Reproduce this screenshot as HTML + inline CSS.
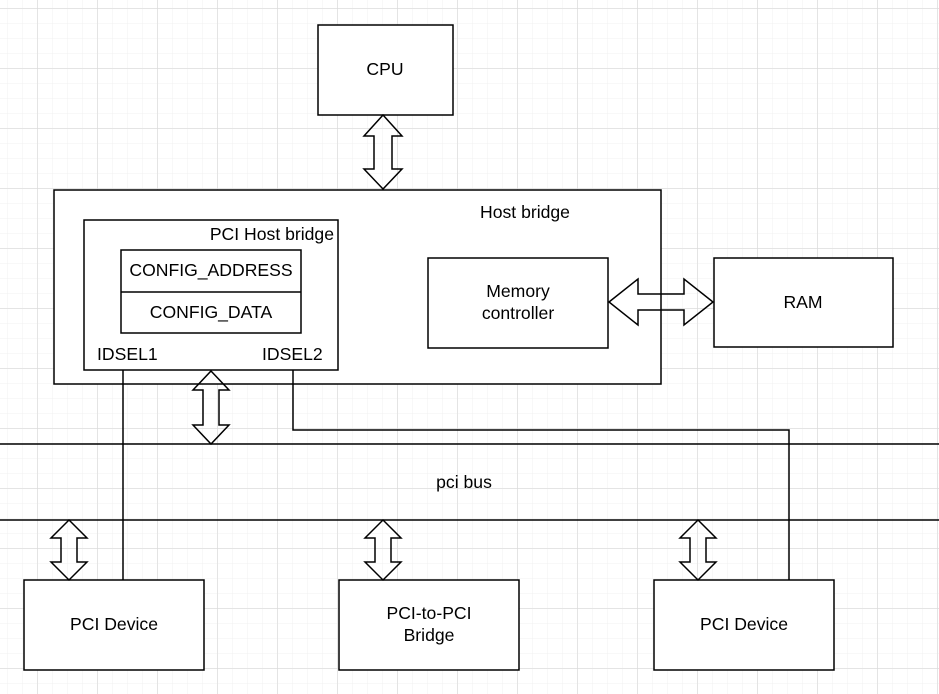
<!DOCTYPE html><html><head><style>body{margin:0;background:#fff}svg{display:block}text{font-family:"Liberation Sans",Arial,sans-serif;font-size:17.6px;fill:#000}</style></head><body>
<svg width="939" height="694" viewBox="0 0 939 694" xmlns="http://www.w3.org/2000/svg">
<defs>
<pattern id="mn" width="15" height="15" patternUnits="userSpaceOnUse" x="7" y="8"><path d="M0 0H15M0 0V15" stroke="#f1f1f1" stroke-width="1" fill="none"/></pattern>
<pattern id="mj" width="60" height="60" patternUnits="userSpaceOnUse" x="37.5" y="8.5"><path d="M0 0H60M0 0V60" stroke="#d6d6d6" stroke-width="1" fill="none"/></pattern>
</defs>
<rect width="939" height="694" fill="url(#mn)"/>
<rect width="939" height="694" fill="url(#mj)"/>
<g stroke="#000" stroke-width="1.5" fill="#fff">
<rect x="318" y="25" width="135" height="90"/>
<rect x="54" y="190" width="607" height="194"/>
<rect x="84" y="220" width="254" height="150"/>
<rect x="121" y="250" width="180" height="83"/>
<line x1="121" y1="292" x2="301" y2="292"/>
<rect x="428" y="258" width="180" height="90"/>
<rect x="714" y="258" width="179" height="89"/>
<rect x="24" y="580" width="180" height="90"/>
<rect x="339" y="580" width="180" height="90"/>
<rect x="654" y="580" width="180" height="90"/>
</g>
<g stroke="#000" stroke-width="1.5" fill="none">
<line x1="0" y1="444" x2="939" y2="444"/>
<line x1="0" y1="520" x2="939" y2="520"/>
<polyline points="123,370 123,580"/>
<polyline points="293,370 293,430 789,430 789,580"/>
<path d="M383 115 L402 136 L392 136 L392 169 L402 169 L383 189 L364 169 L374 169 L374 136 L364 136 Z"/>
<path d="M211 371 L229 390 L219 390 L219 425 L229 425 L211 444 L193 425 L203 425 L203 390 L193 390 Z"/>
<path d="M69 520 L87 538 L77 538 L77 562 L87 562 L69 580 L51 562 L61 562 L61 538 L51 538 Z"/>
<path d="M383 520 L401 538 L391 538 L391 562 L401 562 L383 580 L365 562 L375 562 L375 538 L365 538 Z"/>
<path d="M698 520 L716 538 L706 538 L706 562 L716 562 L698 580 L680 562 L690 562 L690 538 L680 538 Z"/>
<path d="M609 302 L638 279 L638 294 L684 294 L684 279 L713 302 L684 325 L684 310 L638 310 L638 325 Z"/>
</g>
<text x="385" y="75" text-anchor="middle">CPU</text>
<text x="525" y="218" text-anchor="middle">Host bridge</text>
<text x="334" y="240" text-anchor="end">PCI Host bridge</text>
<text x="211" y="276" text-anchor="middle">CONFIG_ADDRESS</text>
<text x="211" y="318" text-anchor="middle">CONFIG_DATA</text>
<text x="518" y="297" text-anchor="middle">Memory</text>
<text x="518" y="319" text-anchor="middle">controller</text>
<text x="803" y="308" text-anchor="middle">RAM</text>
<text x="97" y="360">IDSEL1</text>
<text x="262" y="360">IDSEL2</text>
<text x="464" y="488" text-anchor="middle">pci bus</text>
<text x="114" y="630" text-anchor="middle">PCI Device</text>
<text x="429" y="619" text-anchor="middle">PCI-to-PCI</text>
<text x="429" y="641" text-anchor="middle">Bridge</text>
<text x="744" y="630" text-anchor="middle">PCI Device</text>
</svg>
</body></html>
